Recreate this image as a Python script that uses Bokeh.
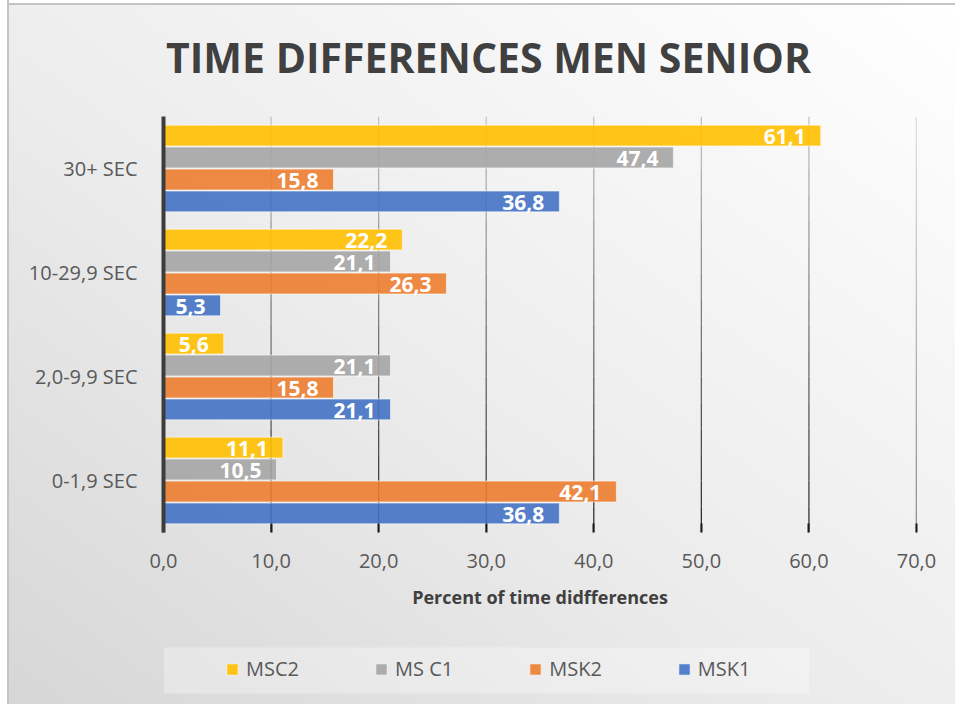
from bokeh.plotting import figure
from bokeh.layouts import column
from bokeh.models import (FactorRange, Range1d, Legend, LegendItem, Label,
                          ColumnDataSource, FixedTicker)
from bokeh.transform import dodge
from bokeh.core.properties import value
from bokeh.embed import file_html
from bokeh.resources import INLINE

# ---------------- data ----------------
categories = ["30+ SEC", "10-29,9 SEC", "2,0-9,9 SEC", "0-1,9 SEC"]
series = ["MSC2", "MS C1", "MSK2", "MSK1"]
msc2 = [61.1, 22.2, 5.6, 11.1]
ms_c1 = [47.4, 21.1, 21.1, 10.5]
msk2 = [15.8, 26.3, 15.8, 42.1]
msk1 = [36.8, 5.3, 21.1, 36.8]
ticks = [0, 10, 20, 30, 40, 50, 60, 70]
tick_labels = ["0,0", "10,0", "20,0", "30,0", "40,0", "50,0", "60,0", "70,0"]
title_text = "TIME DIFFERENCES MEN SENIOR"
x_title = "Percent of time didfferences"

colors = ["#FFC000", "#A5A5A5", "#ED7D31", "#4472C4"]
offsets = [0.317, 0.106, -0.106, -0.317]
values_by_series = [msc2, ms_c1, msk2, msk1]

FONT = "Open Sans"
W = 955
LEFT, RIGHT = 163, 39           # frame borders (the column aligns all frames)
FRAME_W = W - LEFT - RIGHT
TITLE_H, MAIN_H, LEG_H = 116, 524, 64


def transparent(fig):
    fig.background_fill_alpha = 0
    fig.border_fill_alpha = 0
    fig.outline_line_color = None
    fig.xgrid.grid_line_color = None
    fig.ygrid.grid_line_color = None


def strip(height):
    # pixel-unit strip; x measured from the (aligned) frame's left edge
    f = figure(width=W, height=height, output_backend="svg", toolbar_location=None,
               x_range=Range1d(0, FRAME_W), y_range=Range1d(0, height),
               x_axis_type=None, y_axis_type=None,
               min_border_left=LEFT, min_border_right=RIGHT,
               min_border_top=0, min_border_bottom=0)
    transparent(f)
    return f


# ---------------- title strip ----------------
pt = strip(TITLE_H)
pt.add_layout(Label(x=488 - LEFT, y=TITLE_H - 56, text=title_text, text_align="center",
                    text_baseline="middle", text_font=FONT, text_font_style="bold",
                    text_font_size="41px", text_color="#404040"))

# ---------------- main chart ----------------
p = figure(width=W, height=MAIN_H, output_backend="svg", toolbar_location=None,
           y_range=FactorRange(factors=list(reversed(categories))),
           x_range=Range1d(0, 70),
           min_border_left=LEFT, min_border_right=RIGHT, min_border_top=0,
           min_border_bottom=108)
transparent(p)

# gridlines with a light-to-dark gradient (drawn as segments under the bars)
n_pieces = 16
gx, gy0, gy1, gc = [], [], [], []
for t in ticks[1:]:
    for i in range(n_pieces):
        top = 4 - 4 * i / n_pieces
        bot = 4 - 4 * (i + 1) / n_pieces
        g = int(200 - (200 - 45) * (i + 0.5) / n_pieces)
        gx.append(t)
        gy0.append(top)
        gy1.append(bot)
        gc.append("#%02x%02x%02x" % (g, g, g))
p.segment(x0=gx, x1=gx, y0=gy0, y1=gy1, line_color=gc, line_width=1.3, level="underlay")

for name, vals, col, off in zip(series, values_by_series, colors, offsets):
    src = ColumnDataSource(dict(cat=categories, val=vals,
                                lab=[("%.1f" % v).replace(".", ",") for v in vals]))
    p.hbar(y=dodge("cat", off, range=p.y_range), right="val", left=0, height=0.2,
           source=src, fill_color=col, fill_alpha=0.9,
           line_color="white", line_alpha=0.55, line_width=1)
    p.text(x="val", y=dodge("cat", off, range=p.y_range), text="lab", source=src,
           text_align="right", text_baseline="middle", x_offset=-15, y_offset=1,
           text_font=value(FONT), text_font_style="bold", text_font_size="21px",
           text_color="white")

p.xaxis.ticker = FixedTicker(ticks=ticks)
p.xaxis.major_label_overrides = {t: l for t, l in zip(ticks, tick_labels)}
p.xaxis.axis_line_color = None
p.xaxis.major_tick_in = 9
p.xaxis.major_tick_out = 0
p.xaxis.major_tick_line_color = "#1a1a1a"
p.xaxis.major_tick_line_width = 2
p.xaxis.minor_tick_line_color = None
p.xaxis.major_label_standoff = 21
p.xaxis.major_label_text_font = FONT
p.xaxis.major_label_text_font_size = "20px"
p.xaxis.major_label_text_color = "#595959"
p.xaxis.axis_label = x_title
p.xaxis.axis_label_text_font = FONT
p.xaxis.axis_label_text_font_size = "18px"
p.xaxis.axis_label_text_font_style = "bold"
p.xaxis.axis_label_text_color = "#404040"
p.xaxis.axis_label_standoff = 14

p.yaxis.axis_line_color = "#3c3c3c"
p.yaxis.axis_line_width = 4
p.yaxis.major_tick_line_color = None
p.yaxis.minor_tick_line_color = None
p.yaxis.major_label_standoff = 20
p.yaxis.major_label_text_font = FONT
p.yaxis.major_label_text_font_size = "20px"
p.yaxis.major_label_text_color = "#595959"

# ---------------- legend strip ----------------
pl = strip(LEG_H)
pl.quad(left=[0], right=[809 - LEFT], bottom=[11], top=[57], fill_color="white",
        fill_alpha=0.3, line_color=None)
leg_renderers = []
for name, col in zip(series, colors):
    # one swatch placed below the visible strip: only its legend swatch shows
    leg_renderers.append(pl.quad(left=[0], right=[1], bottom=[-101], top=[-100],
                                 fill_color=col, fill_alpha=0.9,
                                 line_color="white", line_alpha=0.55))
legend = Legend(items=[LegendItem(label=s, renderers=[r]) for s, r in zip(series, leg_renderers)],
                orientation="horizontal", location=(225 - LEFT, 22), margin=0,
                glyph_width=14, glyph_height=14, label_standoff=7, spacing=75,
                padding=10, background_fill_alpha=0, border_line_color=None,
                label_text_font=FONT, label_text_font_size="20px",
                label_text_color="#595959")
pl.add_layout(legend, "center")

layout = column(pt, p, pl, spacing=0)
layout.styles = {
    "background-image": (
        "linear-gradient(to right, #ffffff 0px, #ffffff 7px, #c4c4c4 7px, #c4c4c4 9px, rgba(255,255,255,0) 9px),"
        "linear-gradient(to bottom, #ffffff 0px, #ffffff 3px, #c4c4c4 3px, #c4c4c4 5px, rgba(255,255,255,0) 5px),"
        "linear-gradient(to bottom left, #ffffff 0%, #ececec 55%, #d6d6d6 100%)"
    ),
}

open("out.html", "w").write(file_html(layout, INLINE))
